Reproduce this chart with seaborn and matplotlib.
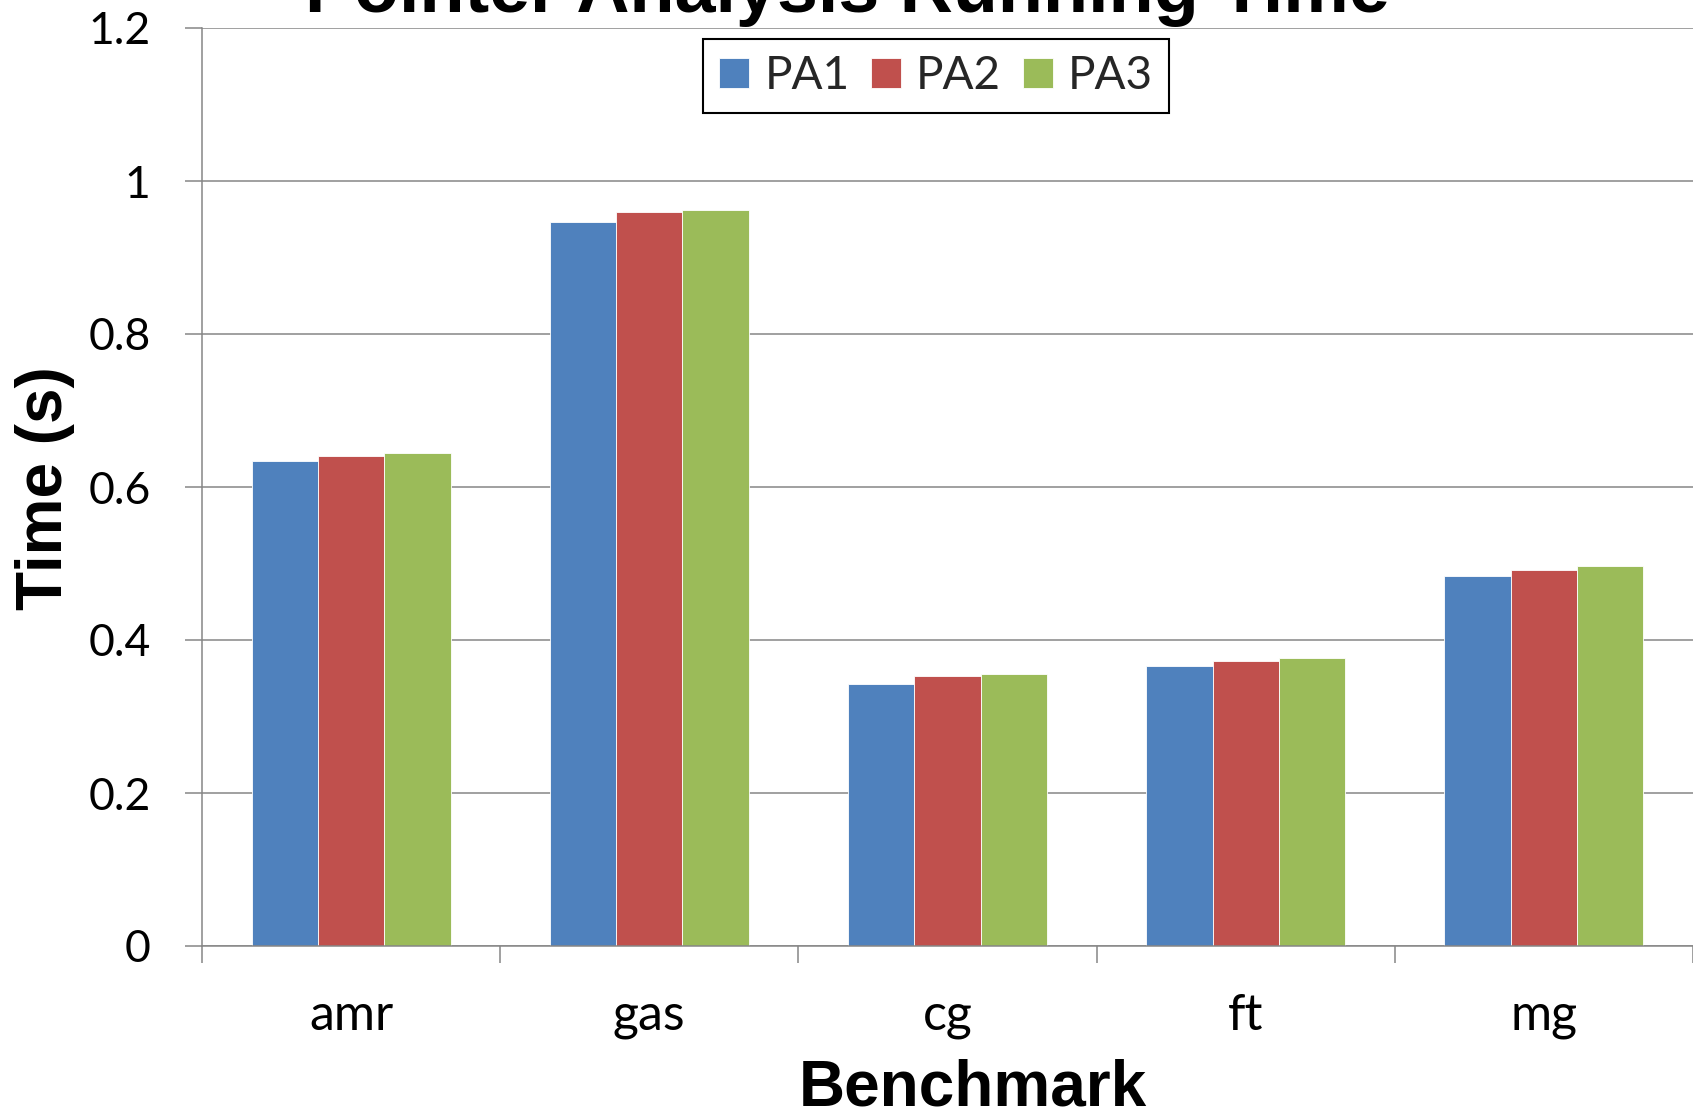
import numpy as np
import pandas as pd
import matplotlib
matplotlib.use("Agg")
import matplotlib.pyplot as plt
import seaborn as sns

benchmarks = ["amr", "gas", "cg", "ft", "mg"]
series = ["PA1", "PA2", "PA3"]
pa1 = [0.634, 0.946, 0.342, 0.366, 0.484]
pa2 = [0.640, 0.959, 0.353, 0.373, 0.491]
pa3 = [0.644, 0.962, 0.355, 0.376, 0.497]
colors = ["#4F81BD", "#C0504D", "#9BBB59"]
yticks = [0, 0.2, 0.4, 0.6, 0.8, 1.0, 1.2]
ytick_labels = ["0", "0.2", "0.4", "0.6", "0.8", "1", "1.2"]
title = "Pointer Analysis Running Time"
xlabel = "Benchmark"
ylabel = "Time (s)"

df = pd.DataFrame({
    "Benchmark": benchmarks * 3,
    "Series": [s for s in series for _ in benchmarks],
    "Time": pa1 + pa2 + pa3,
})

sns.set_theme(style="white")
plt.rcParams["font.family"] = ["Lato", "DejaVu Sans"]

W, H = 1693, 1108
fig = plt.figure(figsize=(W / 100, H / 100), dpi=100)
ax = fig.add_axes([202 / W, 1 - 946 / H, (W - 202) / W, (946 - 28) / H])

sns.barplot(data=df, x="Benchmark", y="Time", hue="Series", order=benchmarks,
            hue_order=series, palette=colors, saturation=1, width=0.667,
            errorbar=None, edgecolor="white", linewidth=0.6, ax=ax)

grid_c = "#868686"
ax.set_xlim(-0.5, 4.5)
ax.set_ylim(0, 1.2)
ax.set_yticks(yticks)
ax.set_yticklabels(ytick_labels)
ax.yaxis.grid(True, color=grid_c, linewidth=1.1)
ax.xaxis.grid(False)
ax.set_axisbelow(True)

# x ticks: marks at category boundaries, labels at centers
ax.set_xticks(np.arange(-0.5, 5.0, 1.0))
ax.set_xticklabels([])
ax.set_xticks(np.arange(len(benchmarks)), minor=True)
ax.set_xticklabels(benchmarks, minor=True)
ax.tick_params(axis="x", which="major", length=12, width=1.1, color=grid_c, direction="out", bottom=True)
ax.tick_params(axis="x", which="minor", length=0, pad=34, labelsize=36, labelcolor="black")
ax.tick_params(axis="y", which="major", length=12, width=1.1, color=grid_c, direction="out",
               left=True, pad=25, labelsize=32, labelcolor="black")

for s in ["top", "right"]:
    ax.spines[s].set_visible(False)
for s in ["left", "bottom"]:
    ax.spines[s].set_color(grid_c)
    ax.spines[s].set_linewidth(1.1)

ax.set_xlabel("")
ax.set_ylabel("")

handles, labels = ax.get_legend_handles_labels()
if ax.get_legend() is not None:
    ax.get_legend().remove()
leg = fig.legend(handles, labels, loc="upper center", bbox_to_anchor=(936 / W, 1 - 39 / H),
                 ncol=3, frameon=True, fancybox=False, shadow=False, fontsize=33,
                 handlelength=0.655, handleheight=0.655, handletextpad=0.33,
                 columnspacing=0.47, borderpad=0.35, borderaxespad=0)
leg.get_frame().set_edgecolor("black")
leg.get_frame().set_linewidth(1.5)
leg.get_frame().set_facecolor("white")
leg.get_frame().set_alpha(1)

bold = ["Liberation Sans", "DejaVu Sans"]
fig.text(847 / W, 1 - 12 / H, title, ha="center", va="baseline", fontsize=53,
         fontweight="bold", family=bold, color="black")
fig.text(973 / W, 1 - 1106 / H, xlabel, ha="center", va="baseline", fontsize=46,
         fontweight="bold", family=bold, color="black")
fig.text(62 / W, 1 - 488 / H, ylabel, ha="center", va="baseline", rotation=90,
         rotation_mode="anchor", fontsize=46, fontweight="bold", family=bold, color="black")

fig.savefig("out.png", dpi=100)
